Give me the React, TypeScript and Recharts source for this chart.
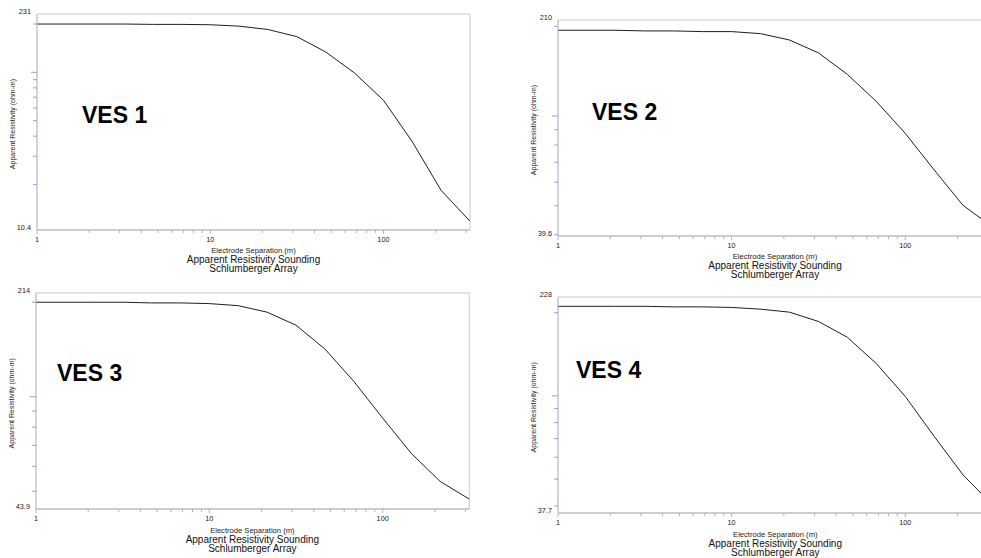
import React from 'react';
import { LineChart, Line, XAxis, YAxis, ReferenceArea } from 'recharts';

// Electrode separation (AB/2, m) – model sampled 6 per decade
const spacing = [1, 1.47, 2.15, 3.16, 4.64, 6.81, 10, 14.7, 21.5, 31.6, 46.4, 68.1, 100, 147, 215, 316];

// Apparent resistivity (ohm-m) for each sounding
const ves1 = [200, 200, 200, 200, 199, 199, 198, 194, 185, 167, 134, 99, 67, 36.8, 18.4, 11.8];
const ves2 = [194, 194, 194, 193, 193, 192, 192, 189, 180, 163, 138, 112, 87.5, 65.9, 50.2, 42.6];
const ves3 = [200, 200, 200, 200, 199, 199, 198, 195, 186, 169, 142, 112, 85.5, 65.8, 53.7, 47.2];
const ves4 = [211, 211, 211, 211, 210, 210, 209, 206, 201, 186, 163, 131, 99.6, 71.3, 51.8, 40.5];

const names = ['VES 1', 'VES 2', 'VES 3', 'VES 4'];
const yMins = [10.4, 39.6, 43.9, 37.7];
const yMaxs = [231, 210, 214, 228];
const xMin = 1;
const xMax = 316;

const xTicks = [1, 2, 3, 4, 5, 6, 7, 8, 9, 10, 20, 30, 40, 50, 60, 70, 80, 90, 100, 200, 300];
const xTickLabels = [1, 10, 100];
const yMinorTicks = [10, 20, 30, 40, 50, 60, 70, 80, 90, 100, 200];

const xTitle = 'Electrode Separation (m)';
const yTitle = 'Apparent Resistivity (ohm-m)';
const title1 = 'Apparent Resistivity Sounding';
const title2 = 'Schlumberger Array';

const FONT = '"Liberation Sans", Arial, Helvetica, sans-serif';

// panel layout (plot-area boxes in page pixels)
const panels = [
  { values: ves1, left: 37, top: 14, width: 433, height: 216, labelX: 82, labelY: 123.3 },
  { values: ves2, left: 558, top: 20, width: 434, height: 216, labelX: 592, labelY: 120 },
  { values: ves3, left: 35.7, top: 293.3, width: 433.3, height: 216, labelX: 57, labelY: 380.7 },
  { values: ves4, left: 558.3, top: 297.3, width: 434, height: 216, labelX: 576, labelY: 378.3 },
];

const AXIS_W = 40;
const M_TOP = 10;
const M_RIGHT = 10;
const AXIS_H = 20;
const M_BOTTOM = 4;

function makeYTick(yMin: number, yMax: number) {
  return (props: any) => {
    const { x, y, payload } = props;
    const v = payload.value;
    if (v === yMin || v === yMax) {
      return (
        <text x={x - 6} y={y - 2.3} dy="0.35em" textAnchor="end" fontSize={7.3} fontFamily={FONT} fill="#222">
          {String(v)}
        </text>
      );
    }
    const len = v === 100 || v === 10 ? 6 : 4;
    return <line x1={x - len} x2={x} y1={y} y2={y} stroke="#9c9ce8" strokeWidth={1} />;
  };
}

const XTick = (props: any) => {
  const { x, y, payload } = props;
  const v = payload.value;
  const major = xTickLabels.includes(v);
  return (
    <g>
      <line x1={x} x2={x} y1={y} y2={y + (major ? 4 : 3)} stroke="#b4b4b4" strokeWidth={1} />
      {major && (
        <text x={x} y={y + 9} dy="0.35em" textAnchor="middle" fontSize={7.3} fontFamily={FONT} fill="#222">
          {String(v)}
        </text>
      )}
    </g>
  );
};

function Panel({ idx }: { idx: number }) {
  const p = panels[idx];
  const yMin = yMins[idx];
  const yMax = yMaxs[idx];
  const data = spacing.map((s, i) => ({ ab: s, rho: p.values[i] }));
  const yTicks = [yMin, ...yMinorTicks.filter((t) => t > yMin && t < yMax), yMax];
  const W = p.width + AXIS_W + M_RIGHT;
  const H = p.height + M_TOP + AXIS_H + M_BOTTOM;
  const cx = p.left + p.width / 2;
  const bottom = p.top + p.height;
  return (
    <>
      <div style={{ position: 'absolute', left: p.left - AXIS_W, top: p.top - M_TOP, width: W, height: H }}>
        <LineChart width={W} height={H} data={data} margin={{ top: M_TOP, right: M_RIGHT, bottom: M_BOTTOM, left: 0 }}>
          <XAxis
            dataKey="ab"
            type="number"
            scale="log"
            domain={[xMin, xMax]}
            allowDataOverflow
            ticks={xTicks}
            interval={0}
            height={AXIS_H}
            tickSize={0}
            tickMargin={0}
            tickLine={false}
            axisLine={{ stroke: '#b8b8b8', strokeWidth: 1 }}
            tick={XTick}
          />
          <YAxis
            dataKey="rho"
            type="number"
            scale="log"
            domain={[yMin, yMax]}
            allowDataOverflow
            ticks={yTicks}
            interval={0}
            width={AXIS_W}
            tickSize={0}
            tickMargin={0}
            tickLine={false}
            axisLine={{ stroke: '#c4c4d8', strokeWidth: 1 }}
            tick={makeYTick(yMin, yMax)}
          />
          <ReferenceArea x1={xMin} x2={xMax} y1={yMin} y2={yMax} fill="none" stroke="#c8c8c8" strokeWidth={1} />
          <Line
            type="linear"
            dataKey="rho"
            stroke="#1e1e1e"
            strokeWidth={1}
            dot={false}
            isAnimationActive={false}
          />
        </LineChart>
      </div>
      <svg
        width={981}
        height={558}
        style={{ position: 'absolute', left: 0, top: 0, pointerEvents: 'none', overflow: 'visible' }}
      >
        <text
          x={p.labelX}
          y={p.labelY}
          fontSize={23}
          fontWeight="bold"
          fontFamily={FONT}
          fill="#000"
        >
          {names[idx]}
        </text>
        <text
          transform={`translate(${p.left - 24.5}, ${p.top + p.height / 2 + 2}) rotate(-90)`}
          textAnchor="middle"
          dy="0.35em"
          fontSize={7}
          fontFamily={FONT}
          fill="#222"
        >
          {yTitle}
        </text>
        <text x={cx} y={bottom + 20.6} dy="0.35em" textAnchor="middle" fontSize={7.6} fontFamily={FONT} fill="#222">
          {xTitle}
        </text>
        <text x={cx} y={bottom + 29.8} dy="0.35em" textAnchor="middle" fontSize={10} fontFamily={FONT} fill="#111">
          {title1}
        </text>
        <text x={cx} y={bottom + 38.7} dy="0.35em" textAnchor="middle" fontSize={10} fontFamily={FONT} fill="#111">
          {title2}
        </text>
      </svg>
    </>
  );
}

export default function App() {
  return (
    <div
      style={{
        position: 'fixed',
        left: 0,
        top: 0,
        width: 981,
        height: 558,
        overflow: 'hidden',
        background: '#fff',
      }}
    >
      {panels.map((_, i) => (
        <Panel key={i} idx={i} />
      ))}
    </div>
  );
}
